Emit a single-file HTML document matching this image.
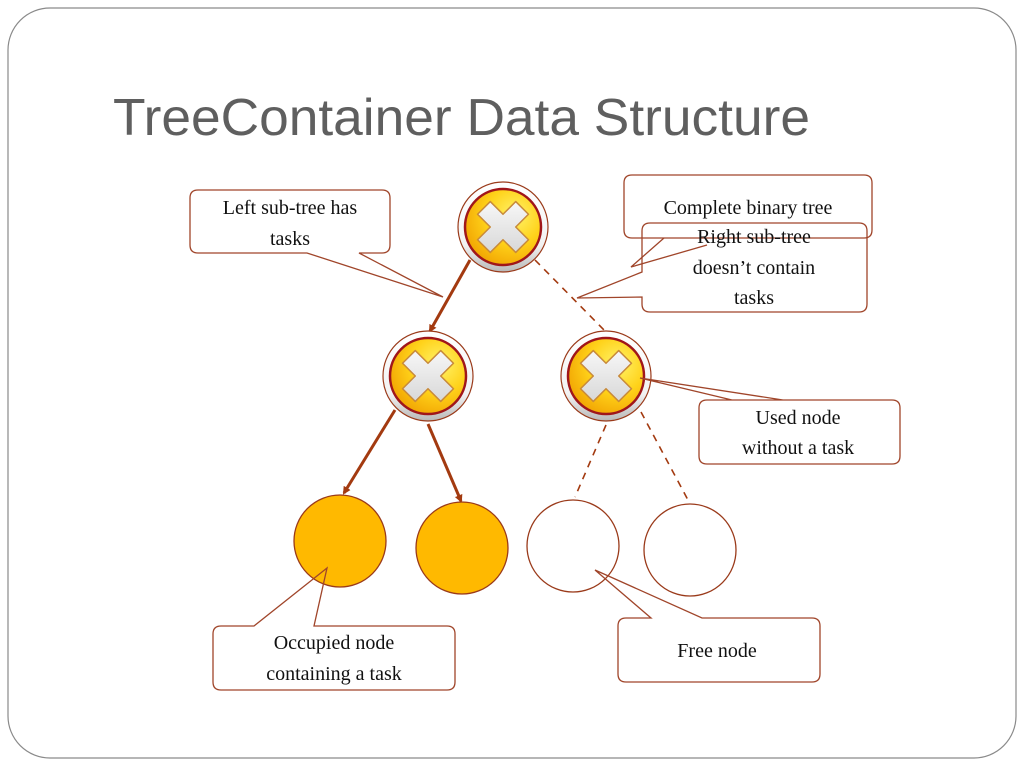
<!DOCTYPE html>
<html><head><meta charset="utf-8"><style>
html,body{margin:0;padding:0;background:#fff}
svg{display:block}
.t{font-family:"Liberation Serif",serif;font-size:20px;fill:#111}
</style></head><body>
<svg width="1024" height="768" viewBox="0 0 1024 768" xmlns="http://www.w3.org/2000/svg">
<defs>
<radialGradient id="yg" cx="0.65" cy="0.35" r="0.75">
<stop offset="0" stop-color="#fff36a"/><stop offset="0.5" stop-color="#ffd21a"/><stop offset="1" stop-color="#f0a000"/>
</radialGradient>
<linearGradient id="ring" x1="0" y1="0" x2="0" y2="1">
<stop offset="0" stop-color="#ffffff"/><stop offset="0.7" stop-color="#f2f2f2"/><stop offset="1" stop-color="#b8b8b8"/>
</linearGradient>
<linearGradient id="xg" x1="0" y1="0" x2="1" y2="1">
<stop offset="0" stop-color="#ffffff"/><stop offset="1" stop-color="#d0d0d0"/>
</linearGradient>
<g id="xn">
<circle r="45" fill="url(#ring)" stroke="#9a3a1a" stroke-width="1.2"/>
<circle r="38" fill="url(#yg)" stroke="#a0161a" stroke-width="2.5"/>
<path d="M-9,-27 L9,-27 L9,-9 L27,-9 L27,9 L9,9 L9,27 L-9,27 L-9,9 L-27,9 L-27,-9 L-9,-9 Z" transform="rotate(45)" fill="url(#xg)" stroke="#c88a3a" stroke-width="1.5" stroke-linejoin="round"/>
</g>
<marker id="ah" markerWidth="8" markerHeight="8" refX="6" refY="4" orient="auto" markerUnits="userSpaceOnUse">
<path d="M0,0 L8,4 L0,8 Z" fill="#a33a10"/>
</marker>
</defs>
<rect x="8" y="8" width="1008" height="750" rx="42" fill="#fff" stroke="#8a8a8a" stroke-width="1.2"/>
<text x="113" y="135" font-family="Liberation Sans,sans-serif" font-size="52" fill="#5f5f5f" textLength="697" lengthAdjust="spacingAndGlyphs">TreeContainer Data Structure</text>

<g stroke="#a33a10" stroke-width="3" fill="none">
<line x1="470" y1="260" x2="430" y2="331" marker-end="url(#ah)"/>
<line x1="395" y1="410" x2="344" y2="493" marker-end="url(#ah)"/>
<line x1="428" y1="424" x2="461" y2="501" marker-end="url(#ah)"/>
</g>
<g stroke="#a33a10" stroke-width="1.6" fill="none" stroke-dasharray="7,6">
<line x1="535" y1="260" x2="607" y2="333"/>
<line x1="606" y1="425" x2="575" y2="497"/>
<line x1="641" y1="412" x2="688" y2="500"/>
</g>

<use href="#xn" x="503" y="227"/>
<use href="#xn" x="428" y="376"/>
<use href="#xn" x="606" y="376"/>

<g stroke="#9a3a1a" stroke-width="1.3">
<circle cx="340" cy="541" r="46" fill="#ffb900"/>
<circle cx="462" cy="548" r="46" fill="#ffb900"/>
<circle cx="573" cy="546" r="46" fill="#fff"/>
<circle cx="690" cy="550" r="46" fill="#fff"/>
</g>

<g stroke="#a0452a" stroke-width="1.3" fill="none">
<path d="M198,190 H382 Q390,190 390,198 V245 Q390,253 382,253 H359 L443,297 L307,253 H198 Q190,253 190,245 V198 Q190,190 198,190 Z"/>
<path d="M632,175 H864 Q872,175 872,183 V230 Q872,238 864,238 H632 Q624,238 624,230 V183 Q624,175 632,175 Z"/>
<path d="M650,223 H859 Q867,223 867,231 V304 Q867,312 859,312 H650 Q642,312 642,304 V297 L577,298 L642,272 V231 Q642,223 650,223 Z"/>
<path d="M664,238 L631,267 L707,245"/>
<path d="M707,400 H892 Q900,400 900,408 V456 Q900,464 892,464 H707 Q699,464 699,456 V408 Q699,400 707,400 H732 L640,378 L783,400" />
<path d="M221,626 H254 L327,568 L314,626 H447 Q455,626 455,634 V682 Q455,690 447,690 H221 Q213,690 213,682 V634 Q213,626 221,626 Z"/>
<path d="M626,618 H651 L595,570 L702,618 H812 Q820,618 820,626 V674 Q820,682 812,682 H626 Q618,682 618,674 V626 Q618,618 626,618 Z"/>
</g>

<text class="t" x="290" y="214" text-anchor="middle">Left sub-tree has</text>
<text class="t" x="290" y="245" text-anchor="middle">tasks</text>
<text class="t" x="748" y="214" text-anchor="middle">Complete binary tree</text>
<text class="t" x="754" y="243" text-anchor="middle">Right sub-tree</text>
<text class="t" x="754" y="274" text-anchor="middle">doesn’t  contain</text>
<text class="t" x="754" y="304" text-anchor="middle">tasks</text>
<text class="t" x="798" y="424" text-anchor="middle">Used node</text>
<text class="t" x="798" y="454" text-anchor="middle">without a task</text>
<text class="t" x="334" y="649" text-anchor="middle">Occupied node</text>
<text class="t" x="334" y="680" text-anchor="middle">containing  a task</text>
<text class="t" x="717" y="657" text-anchor="middle">Free node</text>
</svg>
</body></html>
